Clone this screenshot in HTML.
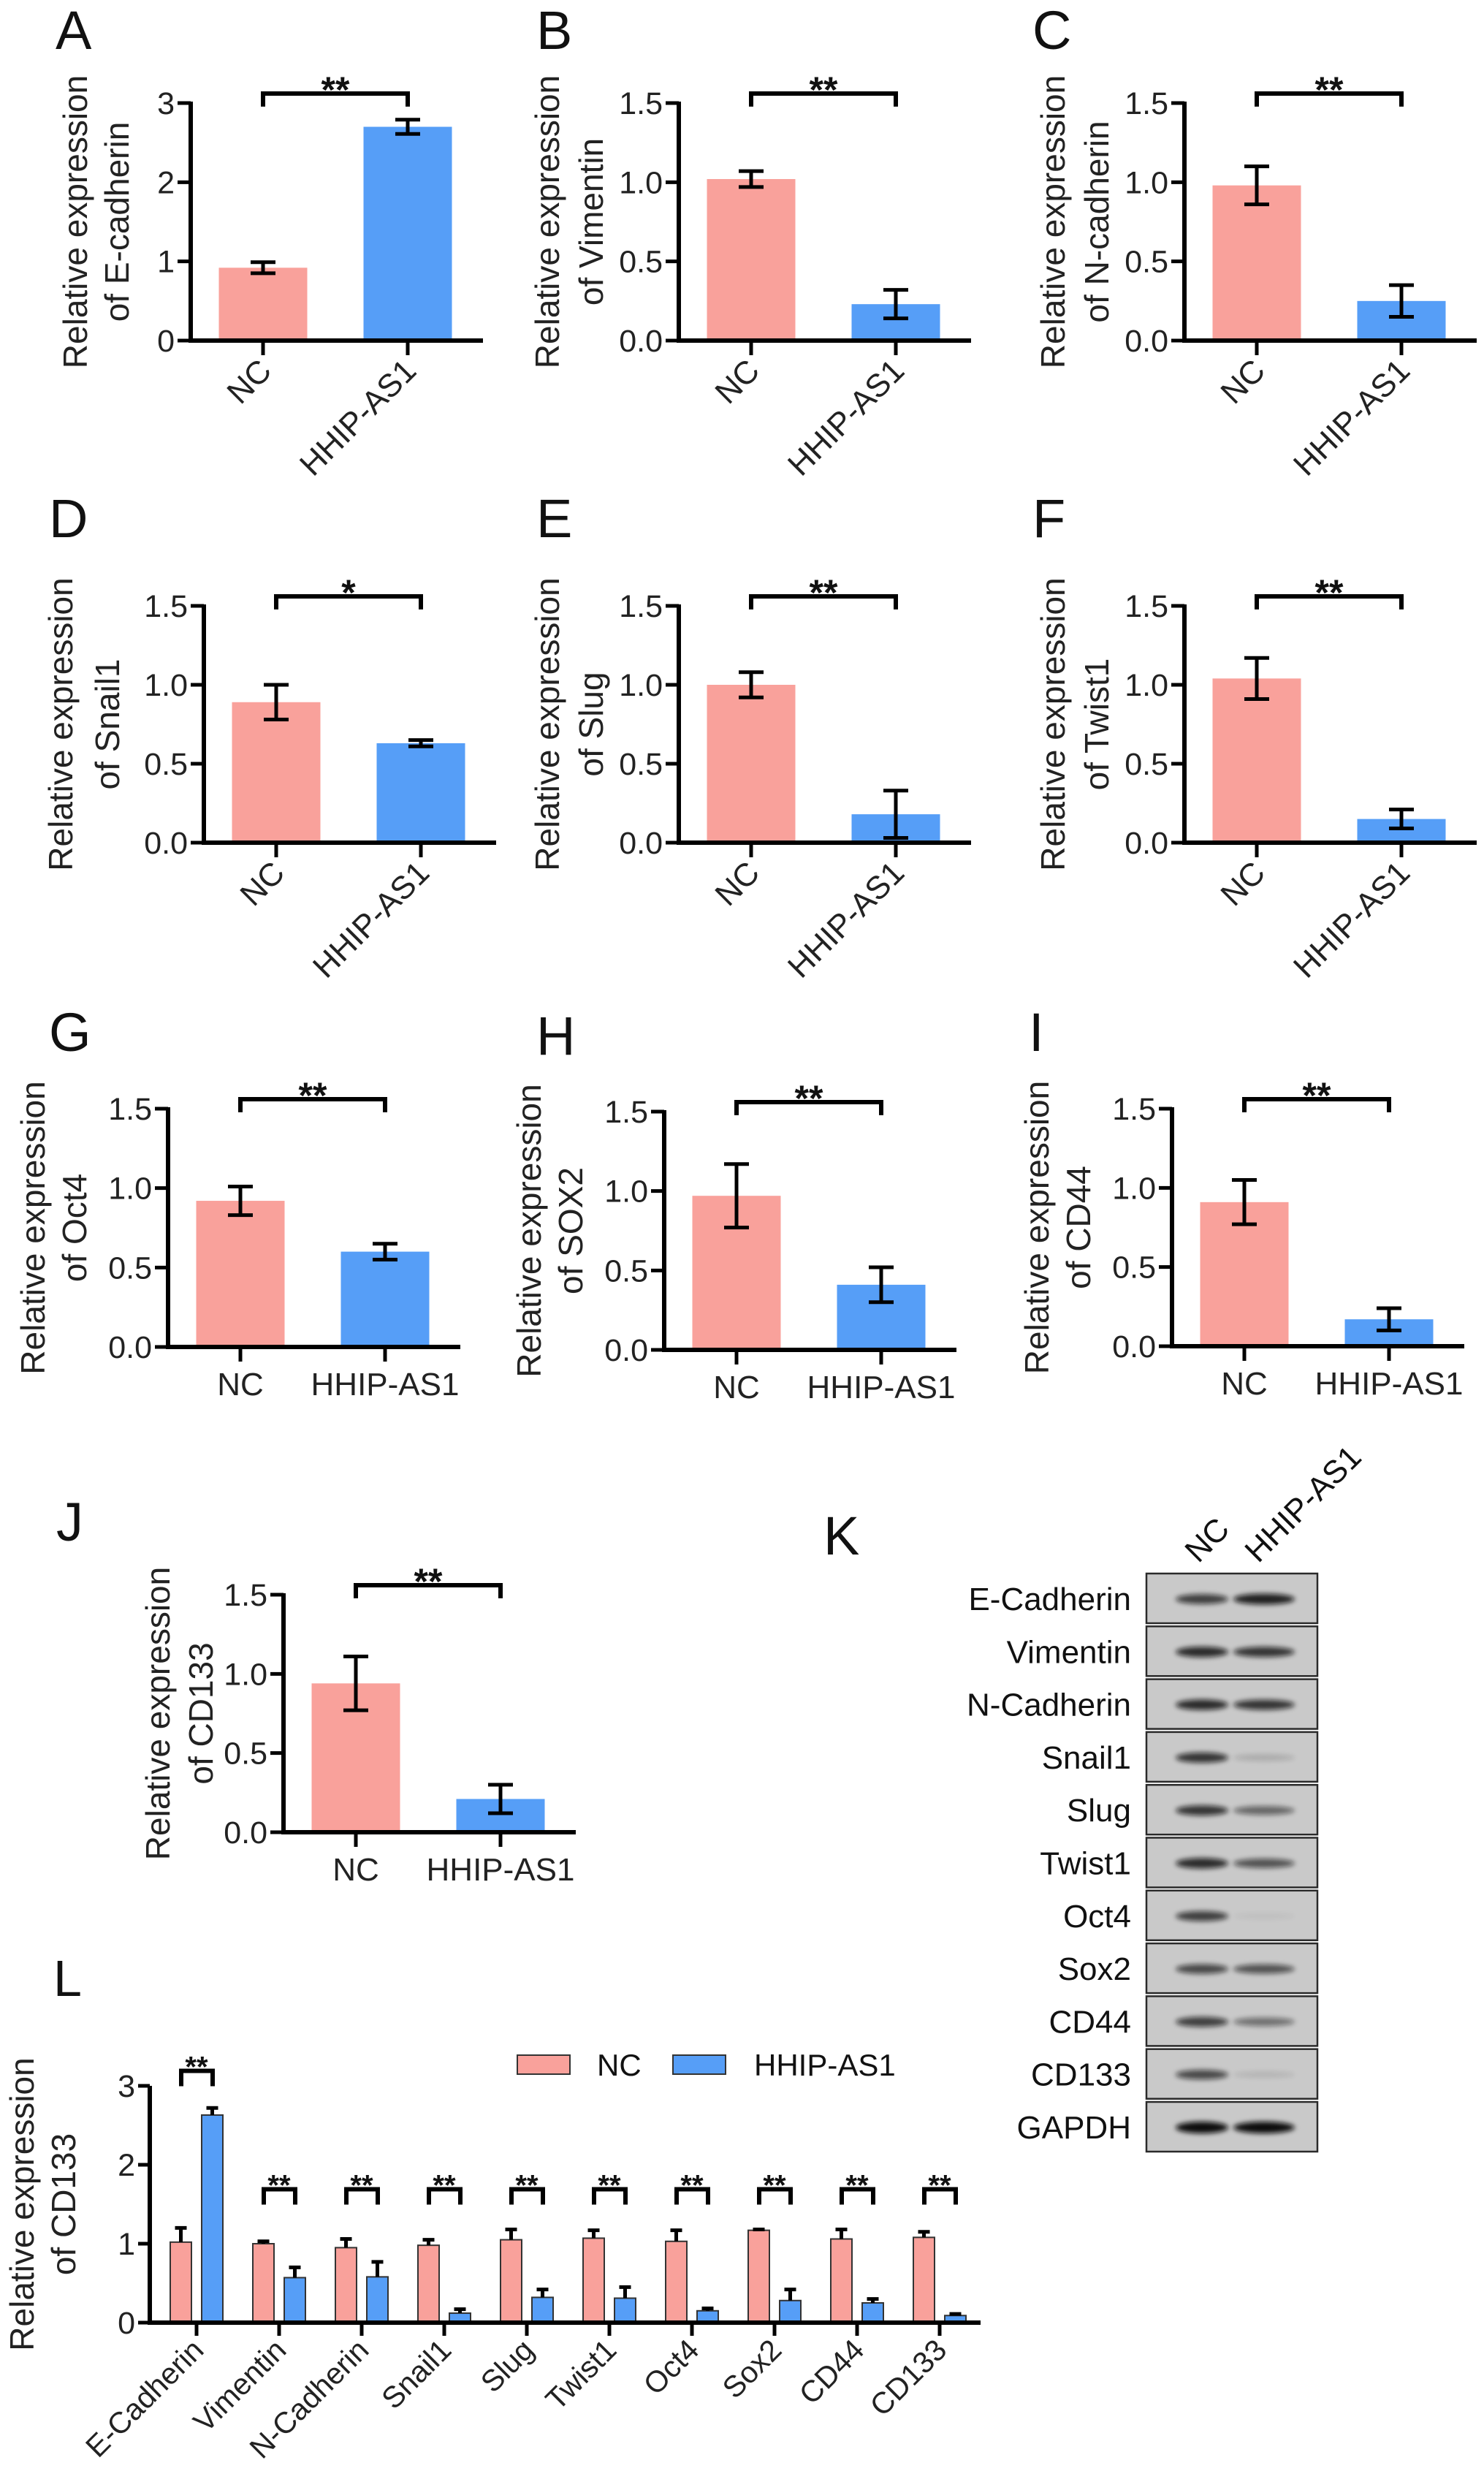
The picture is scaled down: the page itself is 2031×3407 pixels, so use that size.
<!DOCTYPE html>
<html><head><meta charset="utf-8"><title>HHIP-AS1 expression figure</title>
<style>
html,body{margin:0;padding:0;background:#fff;}
svg{display:block;font-family:"Liberation Sans",Arial,sans-serif;}
</style></head>
<body>
<svg id="fig" width="2031" height="3407" viewBox="0 0 2031 3407" xmlns="http://www.w3.org/2000/svg">
<defs><filter id="blur" x="-20%" y="-200%" width="140%" height="500%"><feGaussianBlur stdDeviation="3.5"/></filter></defs>
</svg>
<script>
// ---- single-panel data (A-J) ----
const panelLetters = ['A','B','C','D','E','F','G','H','I','J'];
const geneNames = ['E-cadherin','Vimentin','N-cadherin','Snail1','Slug','Twist1','Oct4','SOX2','CD44','CD133'];
const groupNames = ['NC','HHIP-AS1'];
const ncMeans = [0.92,1.02,0.98,0.89,1.00,1.04,0.92,0.97,0.91,0.94];
const ncErrs  = [0.07,0.05,0.12,0.11,0.08,0.13,0.09,0.20,0.14,0.17];
const hhMeans = [2.70,0.23,0.25,0.63,0.18,0.15,0.60,0.41,0.17,0.21];
const hhErrs  = [0.09,0.09,0.10,0.02,0.15,0.06,0.05,0.11,0.07,0.09];
const sigLabels = ['**','**','**','*','**','**','**','**','**','**'];
const yMaxes = [3,1.5,1.5,1.5,1.5,1.5,1.5,1.5,1.5,1.5];
const tickLabels3 = ['0','1','2','3'];
const tickLabels15 = ['0.0','0.5','1.0','1.5'];

// ---- panel L data ----
const lGenes = ['E-Cadherin','Vimentin','N-Cadherin','Snail1','Slug','Twist1','Oct4','Sox2','CD44','CD133'];
const lNc    = [1.02,1.00,0.95,0.98,1.05,1.07,1.03,1.17,1.06,1.08];
const lNcErr = [0.18,0.03,0.11,0.07,0.13,0.10,0.14,0.01,0.12,0.07];
const lHh    = [2.63,0.57,0.58,0.12,0.32,0.31,0.15,0.28,0.25,0.09];
const lHhErr = [0.09,0.13,0.19,0.05,0.10,0.14,0.03,0.14,0.05,0.02];
const lTickLabels = ['0','1','2','3'];

// ---- blot (K) data: band intensity 0..1 ----
const blotProteins = ['E-Cadherin','Vimentin','N-Cadherin','Snail1','Slug','Twist1','Oct4','Sox2','CD44','CD133','GAPDH'];
const blotNc = [0.70,0.80,0.80,0.75,0.75,0.80,0.70,0.65,0.70,0.65,1.00];
const blotHh = [0.85,0.75,0.75,0.15,0.50,0.60,0.05,0.60,0.45,0.10,1.00];

// ---- layout (pixels) ----
const LAYOUT = [
  {ax:261,y0:466,top:141,lx:76,ly:67,rot:true,lab:[-158,-101]},
  {ax:929,y0:466,top:141,lx:734,ly:67,rot:true,lab:[-180,-120]},
  {ax:1621,y0:466,top:141,lx:1413,ly:67,rot:true,lab:[-180,-120]},
  {ax:279,y0:1153,top:829,lx:67,ly:735,rot:true,lab:[-196,-132]},
  {ax:929,y0:1153,top:829,lx:734,ly:735,rot:true,lab:[-180,-120]},
  {ax:1621,y0:1153,top:829,lx:1413,ly:735,rot:true,lab:[-180,-120]},
  {ax:230,y0:1843,top:1517,lx:67,ly:1438,rot:false,lab:[-185,-128]},
  {ax:909,y0:1847,top:1521,lx:734,ly:1443,rot:false,lab:[-185,-128]},
  {ax:1604,y0:1842,top:1517,lx:1408,ly:1438,rot:false,lab:[-185,-128]},
  {ax:388,y0:2507,top:2182,lx:77,ly:2108,rot:false,lab:[-172,-113]}
];
const NC_COLOR = '#f9a19b', HH_COLOR = '#569ef7';
const svg = document.getElementById('fig');
const NS = 'http://www.w3.org/2000/svg';
function mk(tag, attrs, parent){
  const e = document.createElementNS(NS, tag);
  for (const k in attrs) e.setAttribute(k, attrs[k]);
  (parent||svg).appendChild(e);
  return e;
}
function txt(str, attrs, parent){ const t = mk('text', attrs, parent); t.textContent = str; return t; }

// ---------- single panels ----------
panelLetters.forEach((letter, i) => {
  const L = LAYOUT[i];
  const g = mk('g', {});
  
  
  const yMax = yMaxes[i];
  const yScale = v => L.y0 - (v / yMax) * (L.y0 - L.top);
  const labels = yMax === 3 ? tickLabels3 : tickLabels15;
  const xEnd = L.ax + 400;
  const cx = [L.ax + 99, L.ax + 297];
  const bw = 121;

  const pl = txt(letter, {x:L.lx, y:L.ly, 'font-size':74, fill:'#111'}, g);
  
  

  // bars
  const means = [ncMeans[i], hhMeans[i]], errs = [ncErrs[i], hhErrs[i]];
  means.forEach((m, j) => {
    const b = mk('rect', {x:cx[j]-bw/2, y:yScale(m), width:bw, height:L.y0 - yScale(m), fill: j===0?NC_COLOR:HH_COLOR}, g);
    
    
    const hi = yScale(m + errs[j]), lo = yScale(m - errs[j]);
    const eb = mk('path', {d:`M${cx[j]},${hi}V${lo}M${cx[j]-17},${hi}H${cx[j]+17}M${cx[j]-17},${lo}H${cx[j]+17}`, stroke:'#000', 'stroke-width':5, fill:'none'}, g);
    
    
  });

  // axes
  const ax = mk('path', {d:`M${L.ax},${L.top-2}V${L.y0}H${xEnd}`, stroke:'#000','stroke-width':6, fill:'none'}, g);
  
  
  labels.forEach((lab, k) => {
    const v = yMax * k / 3;
    const y = yScale(v);
    mk('line', {x1:L.ax-18, x2:L.ax, y1:y, y2:y, stroke:'#000','stroke-width':5}, g);
    const t = txt(lab, {x:L.ax-22, y:y+15, 'font-size':43, 'text-anchor':'end', fill:'#222'}, g);
    
    
  });
  groupNames.forEach((gn, j) => {
    mk('line', {x1:cx[j], x2:cx[j], y1:L.y0, y2:L.y0+20, stroke:'#000','stroke-width':5}, g);
    let t;
    if (L.rot) {
      t = txt(gn, {x:0, y:0, 'font-size':44, 'text-anchor':'end', fill:'#222', transform:`translate(${cx[j]+14},${L.y0+44}) rotate(-45)`}, g);
    } else {
      t = txt(gn, {x:cx[j], y:L.y0+66, 'font-size':44, 'text-anchor':'middle', fill:'#222'}, g);
    }
    
    
  });

  // y label
  const cy = (L.y0 + L.top) / 2;
  const y1 = txt('Relative expression', {x:0, y:0, 'font-size':46, 'text-anchor':'middle', 'dominant-baseline':'central', fill:'#222', transform:`translate(${L.ax+L.lab[0]},${cy}) rotate(-90)`}, g);
  
  
  const y2 = txt('of ' + geneNames[i], {x:0, y:0, 'font-size':46, 'text-anchor':'middle', 'dominant-baseline':'central', fill:'#222', transform:`translate(${L.ax+L.lab[1]},${cy}) rotate(-90)`}, g);
  
  

  // significance bracket
  const by = yScale(yMax * 1.04), ly = yScale(yMax * 0.985);
  const br = mk('path', {d:`M${cx[0]},${ly}V${by}H${cx[1]}V${ly}`, stroke:'#000','stroke-width':6, fill:'none'}, g);
  
  
  const st = txt(sigLabels[i], {x:(cx[0]+cx[1])/2, y:by+12, 'font-size':50, 'font-weight':'bold', 'text-anchor':'middle', fill:'#111'}, g);
  
  
});

// ---------- panel K (western blot) ----------
(function(){
  const g = mk('g', {});
  
  
  const kl = txt('K', {x:1127, y:2127, 'font-size':74, fill:'#111'}, g);
  
  
  const h1 = txt('NC', {x:0, y:0, 'font-size':44, fill:'#111', transform:'translate(1640,2140) rotate(-45)'}, g);
  
  
  const h2 = txt('HHIP-AS1', {x:0, y:0, 'font-size':44, fill:'#111', transform:'translate(1722,2140) rotate(-45)'}, g);
  
  
  const top0 = 2153, pitch = 72.3, h = 68, bx = 1569, bwid = 234;
  blotProteins.forEach((p, r) => {
    const y = top0 + r * pitch;
    const box = mk('rect', {x:bx, y:y, width:bwid, height:h, fill:'#c9c9c9', stroke:'#2a2a2a', 'stroke-width':2.5}, g);
    
    
    const lanes = [[1645, 36, blotNc[r]], [1730, 42, blotHh[r]]];
    lanes.forEach(([c, rx, inten]) => {
      const band = mk('ellipse', {cx:c, cy:y + h/2 + 1, rx:rx, ry: 4 + 4*inten, fill:'#111', opacity: Math.min(1, inten*1.05), filter:'url(#blur)'}, g);
      
      
    });
    const t = txt(p, {x:1548, y:y + h/2 + 16, 'font-size':44, 'text-anchor':'end', fill:'#111'}, g);
    
    
  });
})();

// ---------- panel L ----------
(function(){
  const g = mk('g', {});
  
  
  const y0 = 3178, unit = 108, axX = 205, xEnd = 1342;
  const yS = v => y0 - v * unit;
  const gx = i => 269 + i * 113;
  const ll = txt('L', {x:73, y:2731, 'font-size':70, fill:'#111'}, g);
  
  

  lGenes.forEach((gn, i) => {
    const c = gx(i);
    const sets = [[c-36, lNc[i], lNcErr[i], NC_COLOR, 'nc'], [c+7, lHh[i], lHhErr[i], HH_COLOR, 'hhip-as1']];
    sets.forEach(([x, v, e, col, nm]) => {
      const b = mk('rect', {x:x, y:yS(v), width:29, height:v*unit, fill:col, stroke:'#333', 'stroke-width':2}, g);
      
      
      const mx = x + 14.5;
      const eb = mk('path', {d:`M${mx},${yS(v)}V${yS(v+e)}M${mx-8},${yS(v+e)}H${mx+8}`, stroke:'#000','stroke-width':5, fill:'none'}, g);
      
      
    });
    mk('line', {x1:c, x2:c, y1:y0, y2:y0+18, stroke:'#000','stroke-width':5}, g);
    const t = txt(gn, {x:0, y:0, 'font-size':41, 'text-anchor':'end', fill:'#222', transform:`translate(${c+12},${y0+40}) rotate(-45)`}, g);
    
    
    const maxTop = Math.max(lNc[i]+lNcErr[i], lHh[i]+lHhErr[i]);
    const bv = Math.max(1.69, maxTop + 0.47);
    const by = yS(bv), ly = by + 21;
    const br = mk('path', {d:`M${c-21},${ly}V${by}H${c+22}V${ly}`, stroke:'#000','stroke-width':6, fill:'none'}, g);
    
    
    const st = txt('**', {x:c, y:by+8, 'font-size':40, 'font-weight':'bold', 'text-anchor':'middle', fill:'#111'}, g);
    
    
  });

  const ax = mk('path', {d:`M${axX},${yS(3)}V${y0}H${xEnd}`, stroke:'#000','stroke-width':6, fill:'none'}, g);
  
  
  lTickLabels.forEach((lab, k) => {
    const y = yS(k);
    mk('line', {x1:axX-16, x2:axX, y1:y, y2:y, stroke:'#000','stroke-width':5}, g);
    const t = txt(lab, {x:axX-20, y:y+15, 'font-size':43, 'text-anchor':'end', fill:'#222'}, g);
    
    
  });
  const cy = (y0 + yS(3)) / 2;
  const a1 = txt('Relative expression', {x:0, y:0, 'font-size':46, 'text-anchor':'middle', 'dominant-baseline':'central', fill:'#222', transform:`translate(30,${cy}) rotate(-90)`}, g);
  
  
  const a2 = txt('of CD133', {x:0, y:0, 'font-size':46, 'text-anchor':'middle', 'dominant-baseline':'central', fill:'#222', transform:`translate(87,${cy}) rotate(-90)`}, g);
  
  

  // legend
  const lg = mk('g', {}, g);
  
  
  const e1 = mk('rect', {x:708, y:2812, width:72, height:26, fill:NC_COLOR, stroke:'#333','stroke-width':2}, lg);
  
  
  const t1 = txt('NC', {x:817, y:2840, 'font-size':42, fill:'#111'}, lg);
  
  
  const e2 = mk('rect', {x:921, y:2812, width:72, height:26, fill:HH_COLOR, stroke:'#333','stroke-width':2}, lg);
  
  
  const t2 = txt('HHIP-AS1', {x:1032, y:2840, 'font-size':42, fill:'#111'}, lg);
  
  
})();
</script>
</body></html>
